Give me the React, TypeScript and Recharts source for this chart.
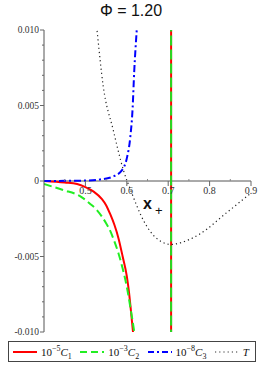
import { Line, LineChart, ReferenceLine, XAxis, YAxis } from 'recharts'

// x positions and values
const C1_X = [0.4, 0.45, 0.48, 0.5, 0.52, 0.54, 0.55, 0.56, 0.57, 0.58, 0.59, 0.6, 0.605, 0.61, 0.615, 0.62]
const C1_Y = [0, -0.0001, -0.0002, -0.0004, -0.0007, -0.0012, -0.0016, -0.0022, -0.0029, -0.0038, -0.005, -0.0063, -0.0073, -0.0086, -0.01, -0.0115]

const C2_X = [0.4, 0.446, 0.487, 0.511, 0.527, 0.55, 0.56, 0.57, 0.58, 0.59, 0.6, 0.61, 0.618, 0.622]
const C2_Y = [-0.0002, -0.0006, -0.001, -0.0015, -0.0019, -0.0028, -0.0033, -0.004, -0.0048, -0.0058, -0.007, -0.0086, -0.01, -0.0108]

const C3_X = [0.4, 0.45, 0.5, 0.535, 0.567, 0.588, 0.6, 0.608, 0.614, 0.618, 0.624, 0.627]
const C3_Y = [0, 0.00001, 0.00003, 0.0001, 0.0003, 0.0007, 0.0015, 0.0028, 0.0048, 0.0073, 0.01, 0.0112]

const T_X = [0.522, 0.528, 0.543, 0.567, 0.592, 0.612, 0.64, 0.672, 0.707, 0.728, 0.777, 0.841, 0.9]
const T_Y = [0.0116, 0.01, 0.0063, 0.0034, 0.0007, -0.0008, -0.0026, -0.0038, -0.0042, -0.0041, -0.0035, -0.0021, -0.0008]

const ASYMPTOTE_X = 0.707
const ASYMPTOTE_Y = [-0.0105, 0.0105]

const X_MAJOR = [0.5, 0.6, 0.7, 0.8, 0.9]
const X_MINOR = [0.45, 0.55, 0.65, 0.75, 0.85]
const Y_TICKS = [-0.01, -0.009, -0.008, -0.007, -0.006, -0.005, -0.004, -0.003, -0.002, -0.001, 0, 0.001, 0.002, 0.003, 0.004, 0.005, 0.006, 0.007, 0.008, 0.009, 0.01]
const Y_LABELS: Record<string, string> = { '-0.01': '-0.010', '-0.005': '-0.005', '0': '0', '0.005': '0.005', '0.01': '0.010' }

const zip = (xs: number[], ys: number[]) => xs.map((x, i) => ({ x, y: ys[i] }))
const c1 = zip(C1_X, C1_Y)
const c2 = zip(C2_X, C2_Y)
const c3 = zip(C3_X, C3_Y)
const tData = zip(T_X, T_Y)
const asym = ASYMPTOTE_Y.map((y) => ({ x: ASYMPTOTE_X, y }))

const PLOT_LEFT = 44
const ZERO_Y = 181
const serif = '"Liberation Serif", "DejaVu Serif", serif'

function XTick({ x, payload }: any) {
  const v = payload.value as number
  const major = X_MAJOR.some((m) => Math.abs(m - v) < 1e-9)
  return (
    <g>
      {major ? (
        <>
          <line x1={x} x2={x} y1={ZERO_Y} y2={ZERO_Y + 5} stroke="#666" />
          <text x={x} y={ZERO_Y + 13} textAnchor="middle" fontSize={10} fontFamily={serif} fill="#333">
            {v.toFixed(1)}
          </text>
        </>
      ) : (
        <line x1={x} x2={x} y1={ZERO_Y} y2={ZERO_Y - 2} stroke="#888" />
      )}
    </g>
  )
}

function YTick({ y, payload }: any) {
  const key = String(Math.round(payload.value * 1000) / 1000)
  const label = Y_LABELS[key]
  return (
    <g>
      <line x1={PLOT_LEFT - (label ? 4 : 2)} x2={PLOT_LEFT} y1={y} y2={y} stroke="#666" />
      {label && (
        <text x={PLOT_LEFT - 5} y={y + 3} textAnchor="end" fontSize={9.5} fontFamily={serif} fill="#333">
          {label}
        </text>
      )}
    </g>
  )
}

function LegendItem({ color, dash, width, children }: any) {
  return (
    <span style={{ display: 'inline-flex', alignItems: 'center' }}>
      <svg width={24} height={6} style={{ marginRight: 4 }}>
        <line x1={0} x2={24} y1={3} y2={3} stroke={color} strokeWidth={width} strokeDasharray={dash} />
      </svg>
      {children}
    </span>
  )
}

const sup = { fontSize: 8, verticalAlign: 'super', lineHeight: 0 } as const
const sub = { fontSize: 8, verticalAlign: 'sub', lineHeight: 0 } as const

export default function App() {
  return (
    <div style={{ position: 'absolute', left: 0, top: 0, width: 262, height: 369, background: '#fff' }}>
      <div
        style={{
          position: 'absolute',
          top: 2,
          width: 262,
          textAlign: 'center',
          fontFamily: '"Liberation Sans", Arial, sans-serif',
          fontSize: 16,
          color: '#111',
        }}
      >
        Φ = 1.20
      </div>
      <LineChart width={262} height={340} margin={{ top: 30, right: 11, bottom: 0, left: 0 }}>
        <XAxis
          type="number"
          dataKey="x"
          domain={[0.4, 0.9]}
          allowDataOverflow
          ticks={[...X_MINOR, ...X_MAJOR].sort((a, b) => a - b)}
          interval={0}
          height={8}
          axisLine={false}
          tickLine={false}
          tick={<XTick />}
        />
        <YAxis
          type="number"
          domain={[-0.01, 0.01]}
          allowDataOverflow
          ticks={Y_TICKS}
          interval={0}
          width={44}
          axisLine={{ stroke: '#555' }}
          tickLine={false}
          tick={<YTick />}
        />
        <ReferenceLine y={0} stroke="#555" />
        <Line data={c1} dataKey="y" type="monotone" stroke="#ff0000" strokeWidth={2} dot={false} isAnimationActive={false} />
        <Line data={asym} dataKey="y" type="linear" stroke="#ff0000" strokeWidth={2} dot={false} isAnimationActive={false} />
        <Line data={c2} dataKey="y" type="monotone" stroke="#22ee22" strokeWidth={2} strokeDasharray="8 4" dot={false} isAnimationActive={false} />
        <Line data={asym} dataKey="y" type="linear" stroke="#22dd22" strokeWidth={2} strokeDasharray="10 4" dot={false} isAnimationActive={false} />
        <Line data={c3} dataKey="y" type="monotone" stroke="#0000ff" strokeWidth={2} strokeDasharray="7 3 2 3" dot={false} isAnimationActive={false} />
        <Line data={tData} dataKey="y" type="monotone" stroke="#222" strokeWidth={1.2} strokeDasharray="1.2 3" dot={false} isAnimationActive={false} />
      </LineChart>
      <div style={{ position: 'absolute', left: 143, top: 195, fontFamily: '"Liberation Sans", Arial, sans-serif', color: '#111' }}>
        <span style={{ fontSize: 16, fontWeight: 'bold' }}>x</span>
        <span style={{ fontSize: 13, position: 'relative', top: 6, left: 3 }}>+</span>
      </div>
      <div
        style={{
          position: 'absolute',
          left: 8,
          top: 341,
          width: 248,
          height: 21,
          border: '1px solid #444',
          display: 'flex',
          alignItems: 'center',
          justifyContent: 'space-between',
          padding: '0 6px 0 4px',
          boxSizing: 'border-box',
          fontFamily: serif,
          fontSize: 11,
          color: '#111',
          whiteSpace: 'nowrap',
        }}
      >
        <LegendItem color="#ff0000" width={2}>
          <span>10<span style={sup}>−5</span><i>C</i><span style={sub}>1</span></span>
        </LegendItem>
        <LegendItem color="#22ee22" width={2} dash="7 4">
          <span>10<span style={sup}>−3</span><i>C</i><span style={sub}>2</span></span>
        </LegendItem>
        <LegendItem color="#0000ff" width={2} dash="6 3 2 3">
          <span>10<span style={sup}>−8</span><i>C</i><span style={sub}>3</span></span>
        </LegendItem>
        <LegendItem color="#333" width={1.2} dash="1.2 3">
          <i>T</i>
        </LegendItem>
      </div>
    </div>
  )
}
